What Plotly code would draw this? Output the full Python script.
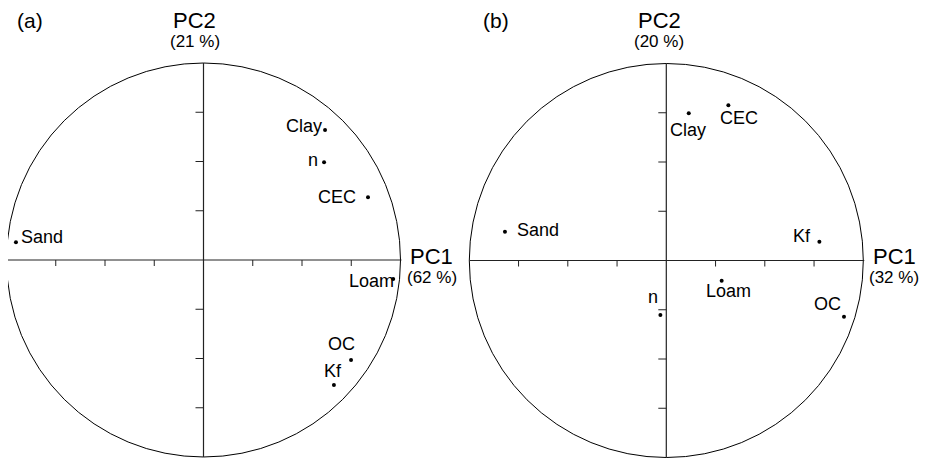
import plotly.graph_objects as go

# ---------------- data ----------------
vars_a = ["Clay", "n", "CEC", "Sand", "Loam", "OC", "Kf"]
pc1_a = [0.617, 0.612, 0.835, -0.952, 0.963, 0.749, 0.662]
pc2_a = [0.660, 0.496, 0.318, 0.090, -0.096, -0.508, -0.635]

vars_b = ["Clay", "CEC", "Sand", "Kf", "Loam", "n", "OC"]
pc1_b = [0.114, 0.315, -0.819, 0.777, 0.281, -0.030, 0.902]
pc2_b = [0.747, 0.788, 0.146, 0.095, -0.103, -0.277, -0.285]

panel_labels = ["(a)", "(b)"]
pc1_var = ["(62 %)", "(32 %)"]
pc2_var = ["(21 %)", "(20 %)"]
tick_vals = [-0.75, -0.5, -0.25, 0.25, 0.5, 0.75]

# ---------------- label offsets (px, text centre relative to dot) ----------------
off_a = [(-21, 3), (-11, 1), (-31, -1), (26, 4), (-22, -3), (-10, 15), (-1, 13)]
off_b = [(-1, -18), (11, -14), (33, 1), (-17, 5), (7, -11), (-7, 17), (-16, 12)]

# ---------------- layout geometry ----------------
OFF = 8                          # page body margin
W, H = 932 - OFF, 459 - OFF
R = 197.0                        # circle radius in px
centres = [(203.5 - OFF, 260.0 - OFF), (666.3 - OFF, 260.5 - OFF)]
split = (466 - OFF) / W
domains = [(0.0, split), (split, 1.0)]
FONT = "Arial, Liberation Sans, Helvetica, sans-serif"

fig = go.Figure()
shapes = []
annotations = []

panels = [(vars_a, pc1_a, pc2_a, off_a), (vars_b, pc1_b, pc2_b, off_b)]

for i, (names, xs, ys, offs) in enumerate(panels):
    xa = "x" if i == 0 else "x2"
    ya = "y" if i == 0 else "y2"
    cx, cy = centres[i]
    d0, d1 = domains[i]
    px0, px1 = d0 * W, d1 * W
    xr = [(px0 - cx) / R, (px1 - cx) / R]
    yr = [-(H - cy) / R, cy / R]
    axis_kw = dict(visible=False, showgrid=False, zeroline=False, fixedrange=True)
    fig.update_layout(**{
        ("xaxis" if i == 0 else "xaxis2"): dict(domain=[d0, d1], range=xr, anchor=ya, **axis_kw),
        ("yaxis" if i == 0 else "yaxis2"): dict(domain=[0, 1], range=yr, anchor=xa, **axis_kw),
    })

    # circle & axes
    shapes.append(dict(type="circle", xref=xa, yref=ya, x0=-1, y0=-1, x1=1, y1=1,
                       line=dict(color="black", width=1)))
    shapes.append(dict(type="line", xref=xa, yref=ya, x0=-1, y0=0, x1=1.005, y1=0,
                       line=dict(color="#222", width=1)))
    shapes.append(dict(type="line", xref=xa, yref=ya, x0=0, y0=-1, x1=0, y1=1,
                       line=dict(color="#222", width=1.2)))

    # ticks
    tlx = 8 / R
    tly = 6 / R
    vx, vy, hx, hy = [], [], [], []
    for t in tick_vals:
        vx += [-tlx, 0, None]
        vy += [t, t, None]
        hx += [t, t, None]
        hy += [0, -tly, None]
    fig.add_trace(go.Scatter(x=vx + hx, y=vy + hy, mode="lines", xaxis=xa, yaxis=ya,
                             line=dict(color="#222", width=1), hoverinfo="skip",
                             showlegend=False))

    # points
    fig.add_trace(go.Scatter(x=xs, y=ys, mode="markers", xaxis=xa, yaxis=ya,
                             marker=dict(color="black", size=4),
                             showlegend=False, hoverinfo="text", text=names))
    for name, x, y, (dx, dy) in zip(names, xs, ys, offs):
        annotations.append(dict(text=name, x=x, y=y, xref=xa, yref=ya, showarrow=False,
                                xanchor="center", yanchor="middle", xshift=dx, yshift=dy + 1,
                                font=dict(family=FONT, size=18, color="black")))

    # axis titles
    pc2_dx = -9 if i == 0 else -7
    annotations.append(dict(text="PC2", x=0, y=1, xref=xa, yref=ya, showarrow=False,
                            xanchor="center", yanchor="middle", xshift=pc2_dx, yshift=43,
                            font=dict(family=FONT, size=22, color="black")))
    annotations.append(dict(text=pc2_var[i], x=0, y=1, xref=xa, yref=ya, showarrow=False,
                            xanchor="center", yanchor="middle", xshift=pc2_dx, yshift=22,
                            font=dict(family=FONT, size=17, color="black")))
    annotations.append(dict(text="PC1", x=1, y=0, xref=xa, yref=ya, showarrow=False,
                            xanchor="center", yanchor="middle", xshift=31, yshift=4,
                            font=dict(family=FONT, size=22, color="black")))
    annotations.append(dict(text=pc1_var[i], x=1, y=0, xref=xa, yref=ya, showarrow=False,
                            xanchor="center", yanchor="middle", xshift=31, yshift=-17,
                            font=dict(family=FONT, size=17, color="black")))
    # panel label
    annotations.append(dict(text=panel_labels[i], x=d0, y=1, xref="paper", yref="paper",
                            showarrow=False, xanchor="left", yanchor="top",
                            xshift=15 - (OFF if i == 0 else 0), yshift=-7 + OFF,
                            font=dict(family=FONT, size=21, color="black")))

fig.update_layout(width=W, height=H, margin=dict(l=0, r=0, t=0, b=0),
                  paper_bgcolor="white", plot_bgcolor="white",
                  shapes=shapes, annotations=annotations, showlegend=False)

fig.write_html("out.html")
